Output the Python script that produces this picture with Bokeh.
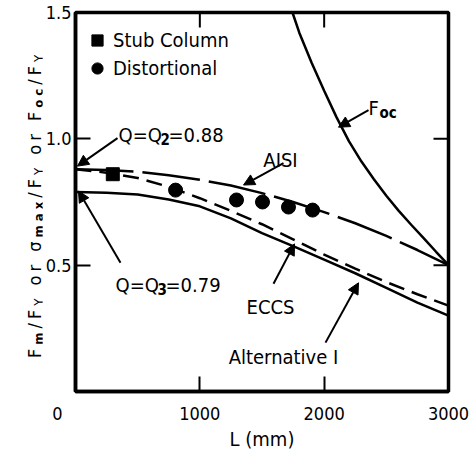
from bokeh.plotting import figure
from bokeh.layouts import row
from bokeh.models import (Range1d, LinearAxis, FixedTicker, Label, Arrow, NormalHead,
                          Legend, LegendItem, PrintfTickFormatter, Div)
from bokeh.embed import file_html
from bokeh.resources import INLINE

FONT = "DejaVu Sans Condensed"

# ---------------- data ----------------
L_curve = [0, 250, 500, 750, 1000, 1250, 1500, 1750, 2000, 2250, 2500, 2750, 3000]
aisi = [0.88, 0.877, 0.870, 0.856, 0.838, 0.815, 0.785, 0.750, 0.710, 0.666, 0.616, 0.560, 0.50]
eccs = [0.88, 0.866, 0.845, 0.810, 0.765, 0.715, 0.662, 0.602, 0.542, 0.486, 0.433, 0.385, 0.34]
alt1 = [0.79, 0.787, 0.780, 0.760, 0.733, 0.685, 0.627, 0.575, 0.522, 0.468, 0.410, 0.352, 0.30]
L_foc = [1745, 1800, 1900, 2000, 2100, 2200, 2300, 2400, 2500, 2600, 2700, 2800, 2900, 3000]
foc = [1.50, 1.42, 1.30, 1.19, 1.085, 0.99, 0.91, 0.84, 0.775, 0.715, 0.66, 0.607, 0.553, 0.50]
stub_L = [300]
stub_v = [0.86]
dist_L = [805, 1295, 1504, 1713, 1907]
dist_v = [0.797, 0.758, 0.750, 0.730, 0.718]

x_ticks = [0, 1000, 2000, 3000]
y_ticks = [0.5, 1.0, 1.5]
top_ticks = [1000, 2000]
right_ticks = [0.5, 1.0]

# y-axis title: (text, subscript?)
ylabel_parts = [("F", False), ("m", True), ("/F", False), ("Y", True), (" or σ", False),
                ("max", True), ("/F", False), ("Y", True), (" or F", False), ("oc", True),
                ("/F", False), ("Y", True)]

# ---------------- layout (pixels of the 473x453 page) ----------------
W, H = 473, 453
SPLIT = 42                      # width of the strip holding the y-axis title
FL, FR, FT, FB = 75, 448, 12, 392
X0, X1, Y0, Y1 = 0, 3000, 0.0, 1.5
TICK = 15


def px2x(px):
    return X0 + (px - FL) / (FR - FL) * (X1 - X0)


def py2y(py):
    return Y1 - (py - FT) / (FB - FT) * (Y1 - Y0)


p = figure(width=W - SPLIT, height=H, output_backend="svg", toolbar_location=None,
           x_range=Range1d(X0, X1), y_range=Range1d(Y0, Y1),
           x_axis_type=None, y_axis_type=None,
           min_border_left=FL - SPLIT, min_border_right=W - FR,
           min_border_top=FT, min_border_bottom=H - FB, margin=0)
p.outline_line_color = "black"
p.outline_line_width = 3.5
p.background_fill_color = "white"
p.border_fill_color = "white"


def make_axis(ticks):
    ax = LinearAxis(ticker=FixedTicker(ticks=ticks))
    ax.axis_line_color = "black"
    ax.axis_line_width = 3.5
    ax.major_tick_in = TICK
    ax.major_tick_out = 0
    ax.major_tick_line_width = 2
    ax.major_tick_line_color = "black"
    ax.minor_tick_in = 0
    ax.minor_tick_out = 0
    ax.major_label_text_font = FONT
    ax.major_label_text_color = "black"
    ax.major_label_text_font_size = "18px"
    return ax


left = make_axis(y_ticks)
left.formatter = PrintfTickFormatter(format="%.1f")
left.major_label_standoff = 4
p.add_layout(left, "left")

bottom = make_axis(x_ticks)
bottom.major_label_standoff = 11
bottom.major_label_overrides = {0: "0" + "\u00a0" * 7}
bottom.axis_label = "L (mm)"
bottom.axis_label_text_font = FONT
bottom.axis_label_text_font_size = "20px"
bottom.axis_label_text_font_style = "normal"
bottom.axis_label_text_color = "black"
bottom.axis_label_standoff = 0
p.add_layout(bottom, "below")

# inward ticks on the top and right frame edges
dx = TICK / (FR - FL) * (X1 - X0)
dy = TICK / (FB - FT) * (Y1 - Y0)
p.segment(x0=[X1 - dx] * len(right_ticks), y0=right_ticks, x1=[X1] * len(right_ticks), y1=right_ticks,
          line_color="black", line_width=2)
p.segment(x0=top_ticks, y0=[Y1 - dy] * len(top_ticks), x1=top_ticks, y1=[Y1] * len(top_ticks),
          line_color="black", line_width=2)

# ---------------- curves ----------------
p.line(L_curve, alt1, line_color="black", line_width=2.5)
p.line(L_curve, eccs, line_color="black", line_width=2.5, line_dash="16 8")
p.line(L_curve, aisi, line_color="black", line_width=2.5, line_dash="58 9")
p.line(L_foc, foc, line_color="black", line_width=2.5)

sq = p.scatter(stub_L, stub_v, marker="square", size=13, color="black")
ci = p.scatter(dist_L, dist_v, marker="circle", size=14, color="black")

legend = Legend(items=[LegendItem(label="Stub Column", renderers=[sq]),
                       LegendItem(label="Distortional", renderers=[ci])],
                location=(6, 309), orientation="vertical",
                glyph_width=32, glyph_height=28, spacing=0,
                padding=0, margin=0, label_standoff=0,
                label_text_font=FONT, label_text_font_size="20px",
                label_text_color="black",
                border_line_alpha=0, background_fill_alpha=0)
p.add_layout(legend, "center")


# ---------------- text helpers ----------------
def ptxt(px, py, s, size=20, align="left", baseline="alphabetic", bold=False):
    p.add_layout(Label(x=px2x(px), y=py2y(py), text=s,
                       text_font=FONT, text_font_size=f"{size}px",
                       text_font_style="bold" if bold else "normal",
                       text_align=align, text_baseline=baseline, text_color="black"))


def arrow(x0, y0, x1, y1):
    p.add_layout(Arrow(end=NormalHead(size=11, fill_color="black", line_color="black", line_width=1),
                       x_start=px2x(x0), y_start=py2y(y0), x_end=px2x(x1), y_end=py2y(y1),
                       line_color="black", line_width=2))


# annotations
ptxt(118, 135, "Q=Q")
ptxt(160, 139, "2", size=15, bold=True)
ptxt(168, 135, "=0.88")
arrow(117, 138, 77, 166)

ptxt(115, 285, "Q=Q")
ptxt(157, 289, "3", size=15, bold=True)
ptxt(165, 285, "=0.79")
arrow(120, 263, 78, 191)

ptxt(280, 160, "AISI", align="center")
arrow(283, 163, 243, 185)

ptxt(368, 108, "F")
ptxt(379, 113, "oc", size=15, bold=True)
arrow(368, 110, 338, 127)

ptxt(270, 307, "ECCS", align="center")
arrow(273, 284, 294, 244)

ptxt(283, 357, "Alternative I", align="center")
arrow(325, 343, 358, 283)

# ---------------- strip with the rotated y-axis title (real HTML text) ----------------
pieces = []
for s, sub in ylabel_parts:
    if sub:
        weight = "normal" if s == "Y" else "bold"
        pieces.append(f'<span style="font-size:13px;font-weight:{weight};position:relative;top:2px;">{s}</span>')
    else:
        pieces.append(s.replace(" ", "&nbsp;"))
label_html = "".join(pieces)

html = (f'<div style="position:relative;width:{SPLIT}px;height:{H}px;overflow:visible;">'
        f'<div style="position:absolute;left:26px;top:358px;transform:rotate(-90deg);'
        f"transform-origin:0 0;white-space:nowrap;font-family:'{FONT}';font-size:18px;"
        f'line-height:18px;letter-spacing:4px;color:black;">{label_html}</div></div>')
ylab = Div(text=html, width=SPLIT, height=H, margin=0)

layout = row(ylab, p, spacing=0)
open("out.html", "w").write(file_html(layout, INLINE))
